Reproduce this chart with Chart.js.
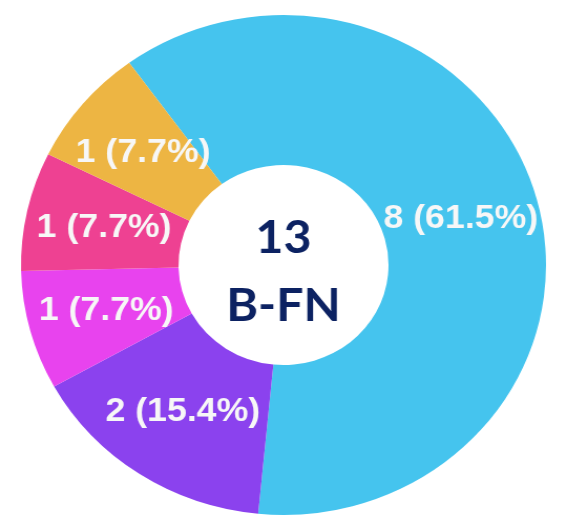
<!DOCTYPE html>
<html lang="en">
<head>
    <meta charset="UTF-8">
    <title>B-FN</title>
    <script src="https://cdn.jsdelivr.net/npm/chart.js"></script>
    <style>
        html, body { margin: 0; padding: 0; background: #fff; overflow: hidden; }
        body { width: 562px; height: 518px; position: relative; }
        /* the reference is a little wider than tall, so stretch horizontally */
        #chart-container {
            position: absolute; left: 0; top: 0;
            width: 540px; height: 530px;
            transform: scaleX(1.05); transform-origin: 0 0;
        }
    </style>
</head>
<body>
    <div id="chart-container">
        <canvas id="donut" width="540" height="530"></canvas>
    </div>
    <script>
        const categories = ['Segment 1', 'Segment 2', 'Segment 3', 'Segment 4', 'Segment 5'];
        const counts = [8, 2, 1, 1, 1];
        const colors = ['#45c4ee', '#8b42ee', '#e843ee', '#ee4192', '#edb543'];
        const centerLines = ['13', 'B-FN'];

        const total = counts.reduce((a, b) => a + b, 0);

        // value + percentage in the middle of each slice
        const sliceLabels = {
            id: 'sliceLabels',
            afterDatasetsDraw(chart) {
                const ctx = chart.ctx;
                const meta = chart.getDatasetMeta(0);
                ctx.save();
                ctx.font = 'bold 34px "Liberation Sans", Arial, sans-serif';
                ctx.fillStyle = '#f7f7f7';
                ctx.textAlign = 'center';
                ctx.textBaseline = 'middle';
                meta.data.forEach((arc, i) => {
                    const p = arc.tooltipPosition();
                    const v = counts[i];
                    const pct = (v / total * 100).toFixed(1);
                    ctx.fillText(v + ' (' + pct + '%)', p.x, p.y);
                });
                ctx.restore();
            }
        };

        // total and name in the hole
        const centerText = {
            id: 'centerText',
            afterDraw(chart) {
                const ctx = chart.ctx;
                const arc = chart.getDatasetMeta(0).data[0];
                ctx.save();
                ctx.font = 'bold 46px Lato, "Open Sans", sans-serif';
                ctx.fillStyle = '#0c2262';
                ctx.textAlign = 'center';
                ctx.textBaseline = 'middle';
                ctx.fillText(centerLines[0], arc.x, arc.y - 27);
                ctx.fillText(centerLines[1], arc.x, arc.y + 41);
                ctx.restore();
            }
        };

        new Chart(document.getElementById('donut'), {
            type: 'doughnut',
            data: {
                labels: categories,
                datasets: [{
                    data: counts,
                    backgroundColor: colors,
                    borderWidth: 0
                }]
            },
            options: {
                responsive: false,
                animation: false,
                rotation: -36,
                cutout: '40%',
                layout: { padding: 15 },
                plugins: {
                    legend: { display: false },
                    tooltip: { enabled: false }
                }
            },
            plugins: [sliceLabels, centerText]
        });
    </script>
</body>
</html>
